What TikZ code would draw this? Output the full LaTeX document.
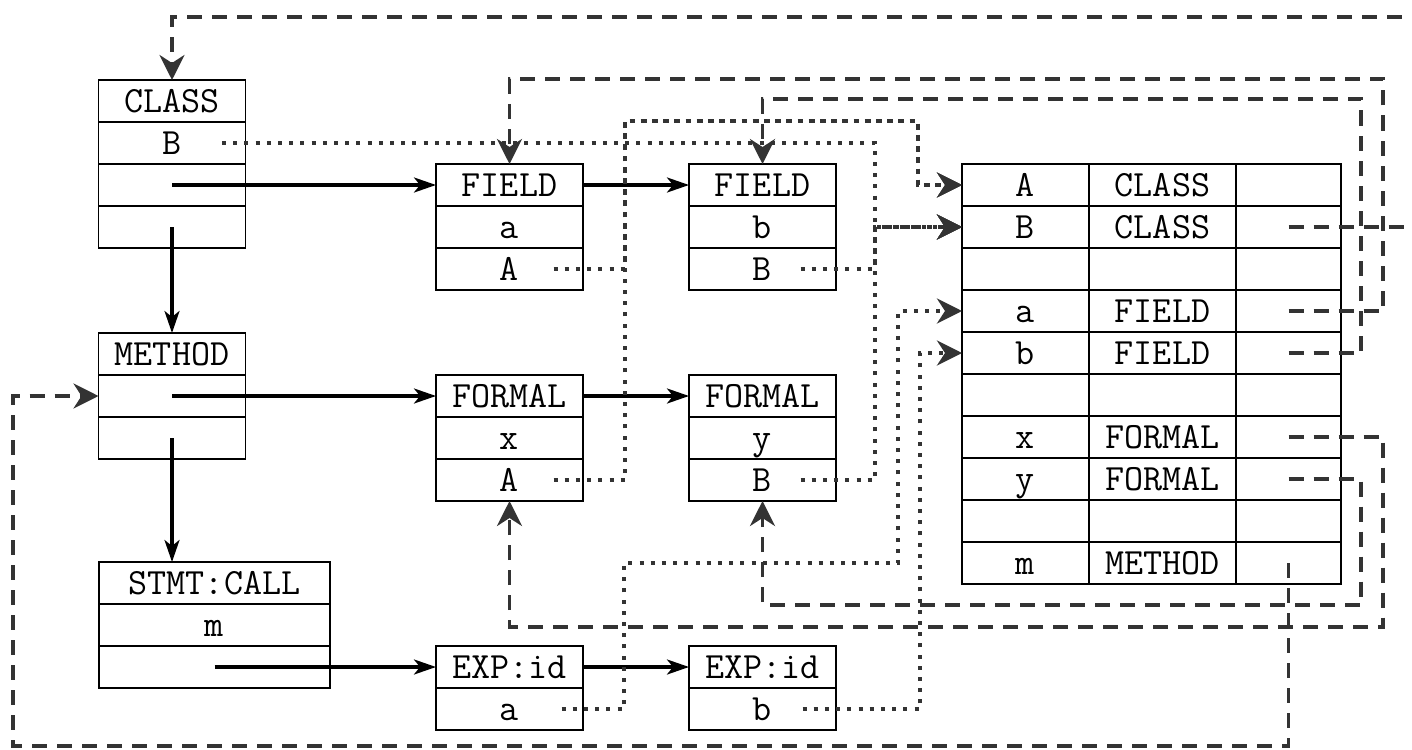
\documentclass[tikz,border=0pt]{standalone}
\usepackage{fontspec}
\usetikzlibrary{positioning,arrows.meta}

\begin{document}
\begin{tikzpicture}[x=0.5pt, y=-0.5pt,
  cell/.style = {draw, line width=0.9pt, outer sep=0pt, minimum width=73.5pt, minimum height=21pt, inner sep=0pt, text height=14pt, text depth=2.7pt, font=\fontsize{18.5}{20}\selectfont\ttfamily},
  wide/.style = {minimum width=115.5pt},
  flow/.style = {line width=1.6pt, -{Stealth[length=11pt, width=7.5pt, inset=3pt]}},
  ref/.style = {color=black!80, line width=1.8pt, dash pattern=on 7.5pt off 5pt, -{Stealth[length=12.5pt, width=12.5pt, inset=4pt]}},
  sym/.style = {color=black!80, line width=2pt, dash pattern=on 2pt off 3.6pt, -{Stealth[length=12.5pt, width=12.5pt, inset=4pt]}}]
\useasboundingbox (0,0) rectangle (1412,749);

% records
\node[cell] (cls1) at (172,101) {CLASS};
\node[cell] (cls2) [below=0pt of cls1] {B};
\node[cell] (cls3) [below=0pt of cls2] {};
\node[cell] (cls4) [below=0pt of cls3] {};

\node[cell] (met1) at (172,354) {METHOD};
\node[cell] (met2) [below=0pt of met1] {};
\node[cell] (met3) [below=0pt of met2] {};

\node[cell, wide] (stmt1) at (214.5,583) {STMT:CALL};
\node[cell, wide] (stmt2) [below=0pt of stmt1] {m};
\node[cell, wide] (stmt3) [below=0pt of stmt2] {};

\node[cell] (fa1) at (509.5,185) {FIELD};
\node[cell] (fa2) [below=0pt of fa1] {a};
\node[cell] (fa3) [below=0pt of fa2] {A};

\node[cell] (fb1) at (762.5,185) {FIELD};
\node[cell] (fb2) [below=0pt of fb1] {b};
\node[cell] (fb3) [below=0pt of fb2] {B};

\node[cell] (fx1) at (509.5,396) {FORMAL};
\node[cell] (fx2) [below=0pt of fx1] {x};
\node[cell] (fx3) [below=0pt of fx2] {A};

\node[cell] (fy1) at (762.5,396) {FORMAL};
\node[cell] (fy2) [below=0pt of fy1] {y};
\node[cell] (fy3) [below=0pt of fy2] {B};

\node[cell] (ea1) at (509.5,667) {EXP:id};
\node[cell] (ea2) [below=0pt of ea1] {a};

\node[cell] (eb1) at (762.5,667) {EXP:id};
\node[cell] (eb2) [below=0pt of eb1] {b};

% symbol table
\foreach \nm/\kd [count=\r] in {A/CLASS, B/CLASS, {}/{}, a/FIELD, b/FIELD, {}/{}, x/FORMAL, y/FORMAL, {}/{}, m/METHOD} {
  \node[cell, minimum width=63.5pt] (t-\r-1) at (1025.5,{143+42*\r}) {\nm};
  \node[cell] (t-\r-2) at (1162.5,{143+42*\r}) {\kd};
  \node[cell, minimum width=52.5pt] (t-\r-3) at (1288.5,{143+42*\r}) {};
}

% tree links
\draw[flow] (cls3.center) -- (fa1.west);
\draw[flow] (fa1) -- (fb1);
\draw[flow] (cls4.center) -- (met1);
\draw[flow] (met2.center) -- (fx1.west);
\draw[flow] (fx1) -- (fy1);
\draw[flow] (met3.center) -- (met3.center |- stmt1.north);
\draw[flow] (stmt3.center) -- (ea1.west);
\draw[flow] (ea1) -- (eb1);

% table back to declarations
\draw[ref] (t-2-3.center) -| (1440,17) -| (cls1.north);
\draw[ref] (t-4-3.center) -| (1383,79) -| (fa1.north);
\draw[ref] (t-5-3.center) -| (1361,99) -| (fb1.north);
\draw[ref] (t-7-3.center) -| (1383,627) -| (fx3.south);
\draw[ref] (t-8-3.center) -| (1361,605) -| (fy3.south);
\draw[ref] (t-10-3.center) |- (13,746) |- (met2.west);

% names into the table
\draw[sym] ([xshift=25pt]cls2.center) -| (875,227) -- (t-2-1.west);
\draw[sym] ([xshift=19pt]fb3.center) -| (875,227) -- (t-2-1.west);
\draw[sym] ([xshift=19pt]fy3.center) -| (875,227) -- (t-2-1.west);
\draw[sym] ([xshift=22pt]fa3.center) -| (625,121) -| (918,185) -- (t-1-1.west);
\draw[sym] ([xshift=22pt]fx3.center) -| (625,121) -| (918,185) -- (t-1-1.west);
\draw[sym] ([xshift=26pt]ea2.center) -| (624,563) -| (898,311) -- (t-4-1.west);
\draw[sym] ([xshift=20pt]eb2.center) -| (920,353) -- (t-5-1.west);
\end{tikzpicture}
\end{document}
